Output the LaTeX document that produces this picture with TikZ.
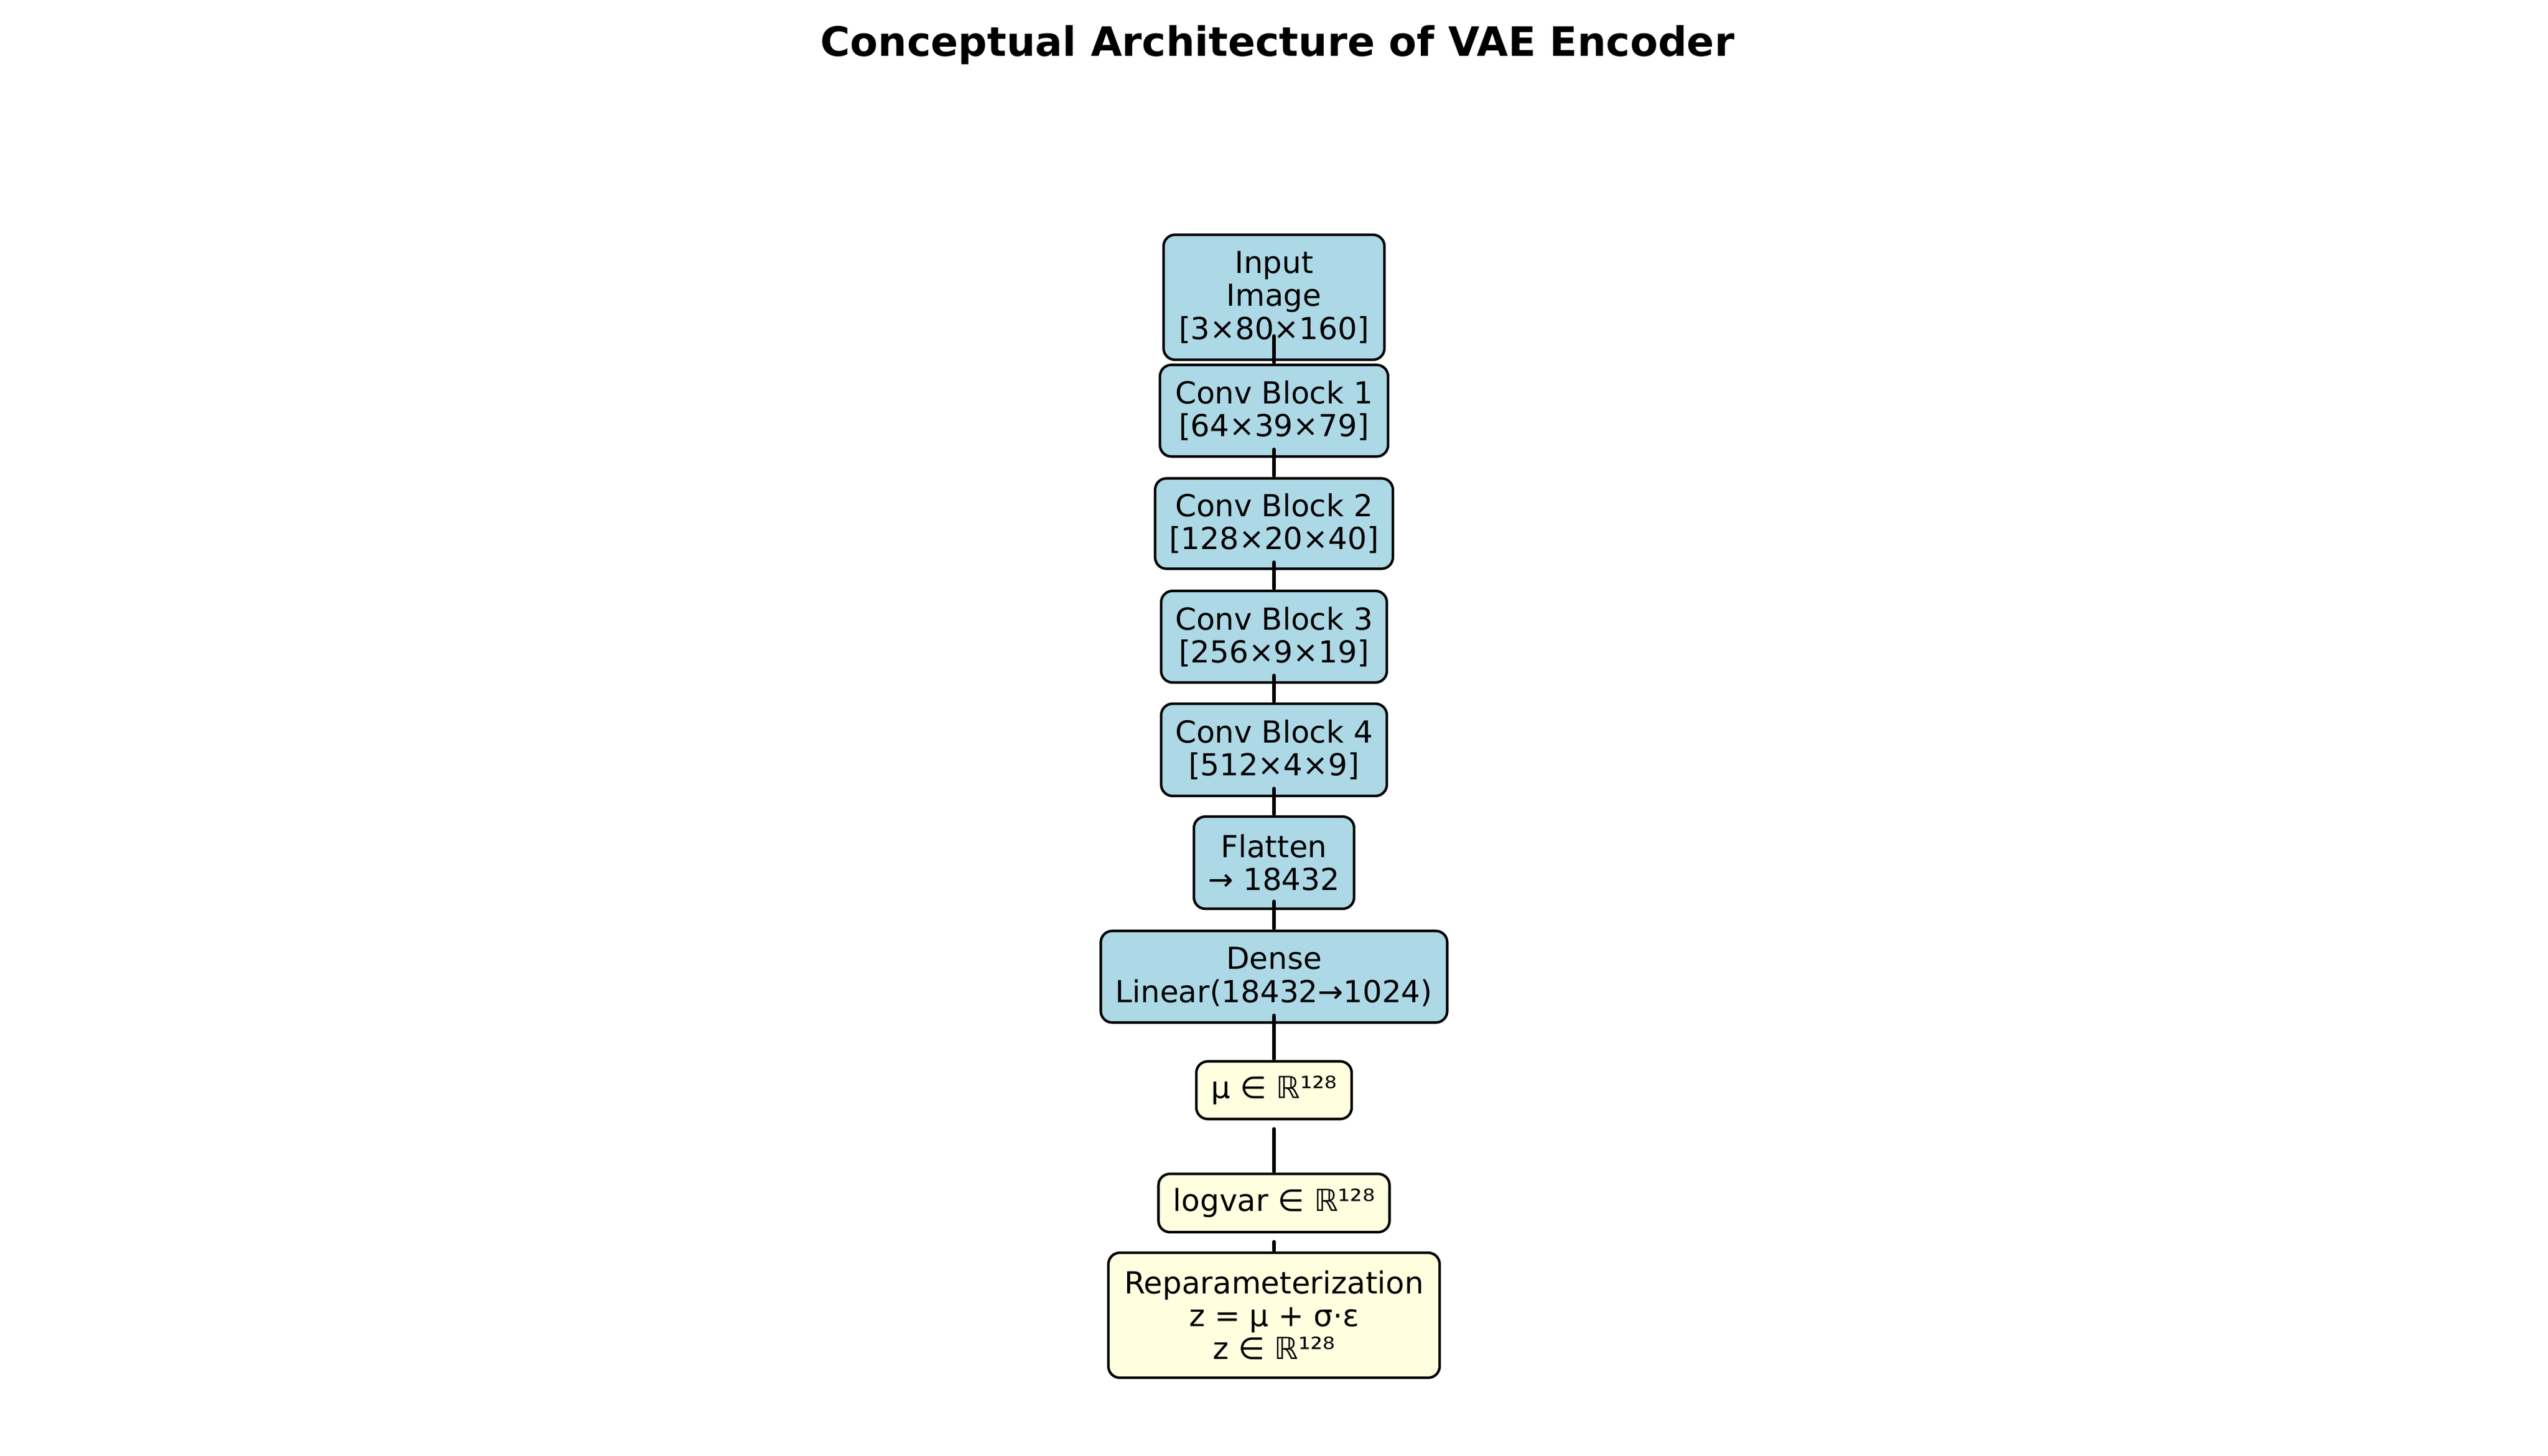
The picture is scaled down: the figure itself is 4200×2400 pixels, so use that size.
\documentclass[tikz,border=0pt]{standalone}
\usepackage{fontspec}
\setmainfont{DejaVu Sans}
\definecolor{lblue}{HTML}{ADD8E6}
\definecolor{lyellow}{HTML}{FFFFE0}
\tikzset{
  box/.style={draw=black, line width=1pt, rounded corners=4.5pt, inner sep=0pt,
    align=center, font=\fontsize{12}{13}\selectfont},
  bluebox/.style={box, fill=lblue},
  yellowbox/.style={box, fill=lyellow},
  conn/.style={draw=black, line width=1.5pt, line cap=round, shorten >=0.5pt},
  titletext/.style={font=\fontsize{16}{19}\selectfont\bfseries, anchor=base, inner sep=0pt}
}
\begin{document}
\begin{tikzpicture}[x=0.24pt, y=-0.24pt]
\useasboundingbox (0,0) rectangle (4200,2400);
\node[titletext] (title) at (2106,93) {Conceptual Architecture of VAE Encoder};

\node[bluebox, minimum width={364*0.24pt}, minimum height={206*0.24pt}] (input) at (2100,490) {Input\\Image\\{[3×80×160]}};
\node[bluebox, minimum width={376*0.24pt}, minimum height={151*0.24pt}] (conv1) at (2100,677) {Conv Block 1\\{[64×39×79]}};
\draw[conn] ([yshift={-64*0.24pt}]input.center) -- (conv1.north);
\node[bluebox, minimum width={392*0.24pt}, minimum height={149*0.24pt}] (conv2) at (2100,863) {Conv Block 2\\{[128×20×40]}};
\draw[conn] ([yshift={-64*0.24pt}]conv1.center) -- (conv2.north);
\node[bluebox, minimum width={372*0.24pt}, minimum height={151*0.24pt}] (conv3) at (2100,1049.5) {Conv Block 3\\{[256×9×19]}};
\draw[conn] ([yshift={-64*0.24pt}]conv2.center) -- (conv3.north);
\node[bluebox, minimum width={372*0.24pt}, minimum height={152*0.24pt}] (conv4) at (2100,1236) {Conv Block 4\\{[512×4×9]}};
\draw[conn] ([yshift={-64*0.24pt}]conv3.center) -- (conv4.north);
\node[bluebox, minimum width={264*0.24pt}, minimum height={152*0.24pt}] (flat) at (2100,1422) {Flatten\\→ 18432};
\draw[conn] ([yshift={-64*0.24pt}]conv4.center) -- (flat.north);
\node[bluebox, minimum width={571*0.24pt}, minimum height={151*0.24pt}] (dense) at (2100,1610) {Dense\\Linear(18432→1024)};
\draw[conn] ([yshift={-64*0.24pt}]flat.center) -- (dense.north);
\node[yellowbox, minimum width={256*0.24pt}, minimum height={95*0.24pt}] (mu) at (2100,1797) {μ ∈ ℝ¹²⁸};
\draw[conn] ([yshift={-64*0.24pt}]dense.center) -- (mu.north);
\node[yellowbox, minimum width={381*0.24pt}, minimum height={96*0.24pt}] (logvar) at (2100,1983) {logvar ∈ ℝ¹²⁸};
\draw[conn] ([yshift={-64*0.24pt}]mu.center) -- (logvar.north);
\node[yellowbox, minimum width={546*0.24pt}, minimum height={206*0.24pt}] (reparam) at (2100,2168) {Reparameterization\\z = μ + σ·ε\\z ∈ ℝ¹²⁸};
\draw[conn] ([yshift={-64*0.24pt}]logvar.center) -- (reparam.north);
\end{tikzpicture}
\end{document}
